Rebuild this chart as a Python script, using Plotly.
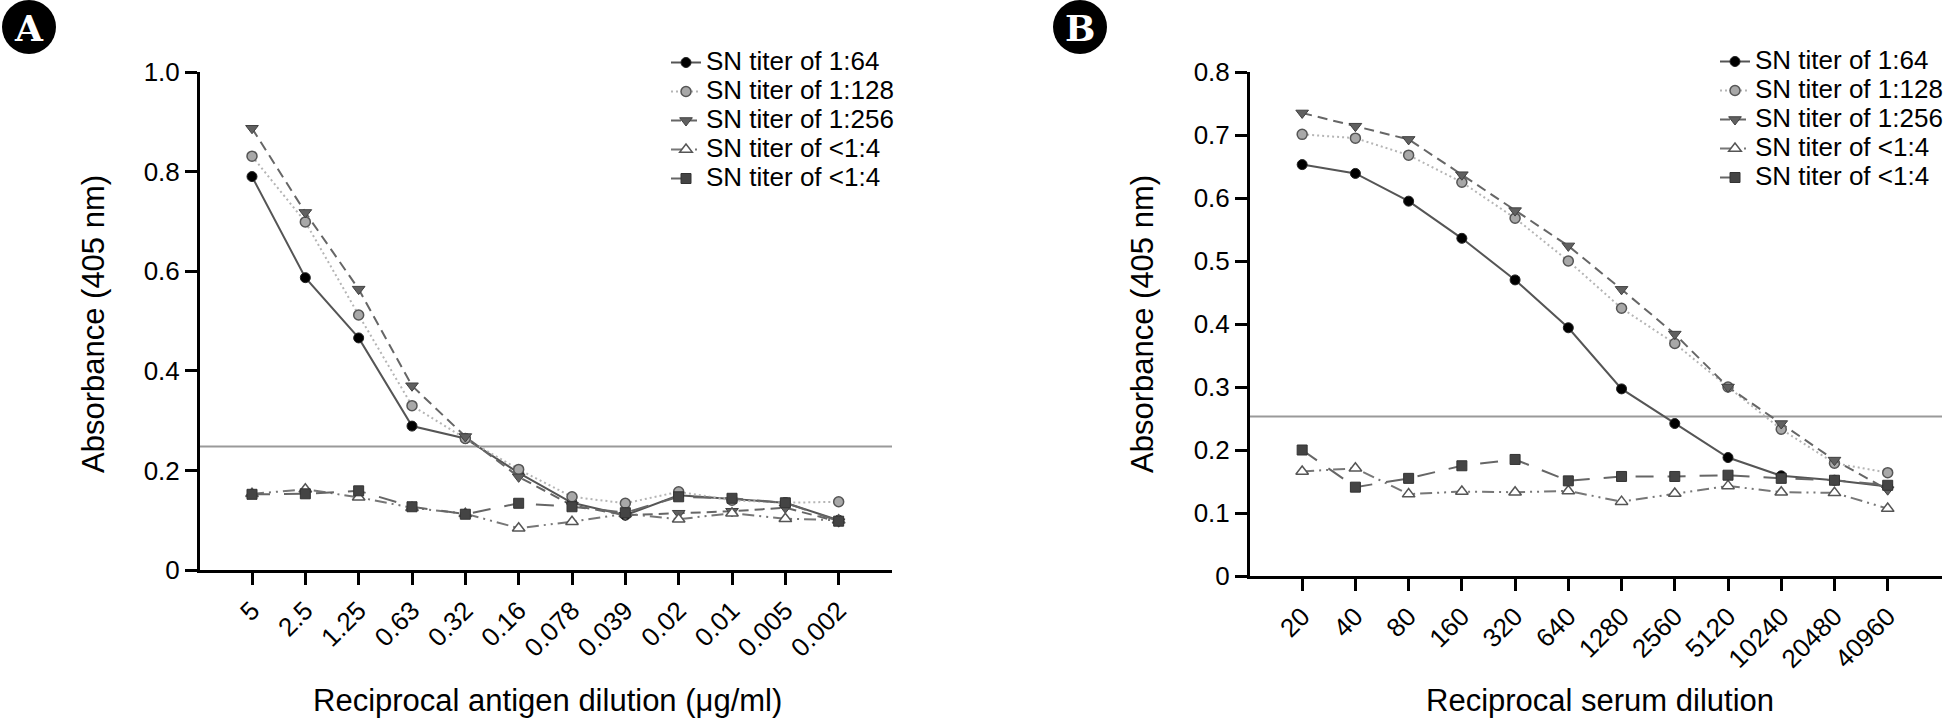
import plotly.graph_objects as go

W, H = 1948, 721

# ---------------- data ----------------
antigen_labels = ["5", "2.5", "1.25", "0.63", "0.32", "0.16", "0.078", "0.039",
                  "0.02", "0.01", "0.005", "0.002"]
serum_labels = ["20", "40", "80", "160", "320", "640", "1280", "2560", "5120",
                "10240", "20480", "40960"]

series_names = ["SN titer of 1:64", "SN titer of 1:128", "SN titer of 1:256",
                "SN titer of <1:4", "SN titer of <1:4"]

a_64 = [0.790, 0.587, 0.466, 0.289, 0.264, 0.195, 0.135, 0.110, 0.150, 0.142, 0.135, 0.100]
a_128 = [0.831, 0.699, 0.512, 0.330, 0.264, 0.202, 0.147, 0.134, 0.157, 0.140, 0.135, 0.137]
a_256 = [0.887, 0.718, 0.564, 0.370, 0.268, 0.187, 0.130, 0.110, 0.114, 0.118, 0.125, 0.097]
a_neg_tri = [0.153, 0.162, 0.146, 0.125, 0.113, 0.084, 0.097, 0.113, 0.102, 0.114, 0.103, 0.100]
a_neg_sq = [0.152, 0.153, 0.159, 0.127, 0.112, 0.134, 0.127, 0.115, 0.147, 0.144, 0.135, 0.098]

b_64 = [0.653, 0.639, 0.595, 0.536, 0.470, 0.394, 0.297, 0.242, 0.188, 0.159, 0.152, 0.142]
b_128 = [0.701, 0.695, 0.668, 0.625, 0.568, 0.500, 0.425, 0.369, 0.300, 0.233, 0.179, 0.164]
b_256 = [0.735, 0.714, 0.693, 0.637, 0.580, 0.524, 0.455, 0.384, 0.300, 0.242, 0.184, 0.137]
b_neg_tri = [0.166, 0.171, 0.130, 0.134, 0.133, 0.135, 0.118, 0.131, 0.143, 0.133, 0.132, 0.107]
b_neg_sq = [0.200, 0.141, 0.155, 0.175, 0.185, 0.151, 0.158, 0.158, 0.160, 0.155, 0.152, 0.144]

cutoff_a = 0.248
cutoff_b = 0.253

a_ytick_vals = [0, 0.2, 0.4, 0.6, 0.8, 1.0]
a_ytick_text = ["0", "0.2", "0.4", "0.6", "0.8", "1.0"]
b_ytick_vals = [0, 0.1, 0.2, 0.3, 0.4, 0.5, 0.6, 0.7, 0.8]
b_ytick_text = ["0", "0.1", "0.2", "0.3", "0.4", "0.5", "0.6", "0.7", "0.8"]

# ---------------- styles ----------------
styles = [
    dict(line=dict(color="#555555", width=2, dash="solid"),
         marker=dict(symbol="circle", size=10, color="#000000", line=dict(color="#222222", width=1))),
    dict(line=dict(color="#b5b5b5", width=2, dash="2px,3px"),
         marker=dict(symbol="circle", size=10, color="#a8a8a8", line=dict(color="#555555", width=1.5))),
    dict(line=dict(color="#666666", width=2, dash="10px,6px"),
         marker=dict(symbol="triangle-down", size=11, color="#606060", line=dict(color="#404040", width=1))),
    dict(line=dict(color="#777777", width=2, dash="12px,5px,2px,5px,2px,5px"),
         marker=dict(symbol="triangle-up", size=11, color="#ffffff", line=dict(color="#555555", width=1.5))),
    dict(line=dict(color="#666666", width=2, dash="18px,14px"),
         marker=dict(symbol="square", size=10, color="#444444", line=dict(color="#333333", width=1))),
]

FONT = "Liberation Sans, Arial, sans-serif"
LEGEND_TEXT_PX = 26

fig = go.Figure()

a_series = [a_64, a_128, a_256, a_neg_tri, a_neg_sq]
b_series = [b_64, b_128, b_256, b_neg_tri, b_neg_sq]


def legend_label(name):
    return '<span style="font-size:%dpx">%s</span>' % (LEGEND_TEXT_PX, name)


for name, ys, st in zip(series_names, a_series, styles):
    fig.add_trace(go.Scatter(x=antigen_labels, y=ys, name=legend_label(name), mode="lines+markers",
                             line=st["line"], marker=st["marker"],
                             xaxis="x", yaxis="y", legend="legend"))
for name, ys, st in zip(series_names, b_series, styles):
    fig.add_trace(go.Scatter(x=serum_labels, y=ys, name=legend_label(name), mode="lines+markers",
                             line=st["line"], marker=st["marker"],
                             xaxis="x2", yaxis="y2", legend="legend2"))


def px_x(p):
    return p / W


def px_y(p):
    return 1 - p / H


axis_common = dict(showline=True, linecolor="black", linewidth=3, ticks="outside",
                   ticklen=12, tickwidth=3, tickcolor="black", showgrid=False,
                   zeroline=False, tickfont=dict(family=FONT, size=26, color="black"),
                   automargin=False)

fig.update_layout(
    width=W, height=H,
    margin=dict(l=0, r=0, t=0, b=0),
    paper_bgcolor="white", plot_bgcolor="white",
    font=dict(family=FONT, color="black"),
    xaxis=dict(domain=[px_x(200), px_x(892)], anchor="y", type="category",
               categoryorder="array", categoryarray=antigen_labels,
               range=[-0.975, 12.0], tickangle=-45, **axis_common),
    yaxis=dict(domain=[px_y(570), px_y(72)], anchor="x", range=[0, 1.0],
               tickvals=a_ytick_vals, ticktext=a_ytick_text, **axis_common),
    xaxis2=dict(domain=[px_x(1250), px_x(1942)], anchor="y2", type="category",
                categoryorder="array", categoryarray=serum_labels,
                range=[-0.98, 12.02], tickangle=-45, **axis_common),
    yaxis2=dict(domain=[px_y(576), px_y(72)], anchor="x2", range=[0, 0.8],
                tickvals=b_ytick_vals, ticktext=b_ytick_text, **axis_common),
    legend=dict(x=px_x(666), y=px_y(43), xanchor="left", yanchor="top",
                font=dict(family=FONT, size=20, color="black"),
                bgcolor="rgba(0,0,0,0)", tracegroupgap=0),
    legend2=dict(x=px_x(1715), y=px_y(42), xanchor="left", yanchor="top",
                 font=dict(family=FONT, size=20, color="black"),
                 bgcolor="rgba(0,0,0,0)", tracegroupgap=0),
)

# cutoff lines
fig.add_shape(type="line", xref="x domain", yref="y", x0=0, x1=1, y0=cutoff_a, y1=cutoff_a,
              line=dict(color="#9a9a9a", width=2), layer="below")
fig.add_shape(type="line", xref="x2 domain", yref="y2", x0=0, x1=1, y0=cutoff_b, y1=cutoff_b,
              line=dict(color="#9a9a9a", width=2), layer="below")

# axis titles
title_font = dict(family=FONT, size=31, color="black")
fig.add_annotation(text="Absorbance (405 nm)", textangle=-90, xref="paper", yref="paper",
                   x=px_x(93), y=px_y(324), showarrow=False, font=title_font,
                   xanchor="center", yanchor="middle")
fig.add_annotation(text="Absorbance (405 nm)", textangle=-90, xref="paper", yref="paper",
                   x=px_x(1142), y=px_y(324), showarrow=False, font=title_font,
                   xanchor="center", yanchor="middle")
fig.add_annotation(text="Reciprocal antigen dilution (\u03bcg/ml)", xref="paper", yref="paper",
                   x=px_x(547), y=px_y(700), showarrow=False, font=title_font,
                   xanchor="center", yanchor="middle")
fig.add_annotation(text="Reciprocal serum dilution", xref="paper", yref="paper",
                   x=px_x(1600), y=px_y(700), showarrow=False, font=title_font,
                   xanchor="center", yanchor="middle")

# panel badges
for cx, letter in [(29, "A"), (1080, "B")]:
    fig.add_shape(type="circle", xref="paper", yref="paper",
                  x0=px_x(cx - 27), x1=px_x(cx + 27), y0=px_y(54), y1=px_y(0),
                  fillcolor="black", line=dict(color="black", width=0))
    fig.add_annotation(text="<b>" + letter + "</b>", xref="paper", yref="paper",
                       x=px_x(cx), y=px_y(28), showarrow=False,
                       font=dict(family="DejaVu Serif, serif", size=36, color="white"),
                       xanchor="center", yanchor="middle")

fig.write_html("out.html", config={"displayModeBar": False},
               post_script="document.body.style.margin='0';document.body.style.overflow='hidden';")
